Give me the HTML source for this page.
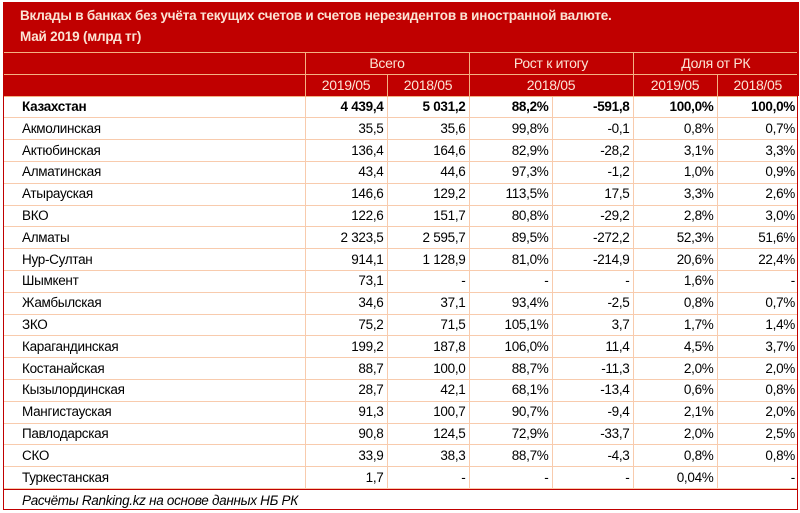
<!DOCTYPE html>
<html><head><meta charset="utf-8"><style>
body{margin:0;width:800px;height:513px;background:#fff;overflow:hidden;font-family:"Liberation Sans","DejaVu Sans",sans-serif;}
#w{position:absolute;left:3px;top:2px;width:795px;height:508px;border-right:1px solid #c00000;border-left:1px solid #c00000;border-bottom:1px solid #c00000;box-sizing:border-box}
.hd{position:absolute;left:3px;top:2px;width:796px;height:94px;background:#c00000}
.t{position:absolute;color:#fbe4d5;font-weight:bold;font-size:13.5px;left:20px;letter-spacing:-0.2px}
table{position:absolute;left:4px;top:52px;border-collapse:collapse;font-size:13.5px;letter-spacing:-0.3px}
td{padding:0 3px;height:20.8px;border:1px solid #f8cbad;white-space:nowrap;text-align:right;line-height:20px}
td.l{text-align:left;padding-left:18px;border-left:none}
tr.h td{color:#fbe4d5;text-align:center;border-color:#f4b183;background:#c00000;font-size:14px}
tr.b td{font-weight:bold}
td:last-child{border-right:none}
.f{position:absolute;left:4px;top:489px;width:794px;height:21px;border-top:1px solid #c00000;font-style:italic;font-size:13.5px;padding-left:18px;line-height:21px;letter-spacing:-0.3px;box-sizing:border-box}
</style></head><body>
<div class="hd"></div>
<div class="t" style="top:8px">Вклады в банках без учёта текущих счетов и счетов нерезидентов в иностранной валюте.</div>
<div class="t" style="top:29px">Май 2019 (млрд тг)</div>
<table>
<colgroup><col style="width:301px"><col style="width:82px"><col style="width:82px"><col style="width:83px"><col style="width:81px"><col style="width:84px"><col style="width:81px"></colgroup>
<tr class="h"><td class="l" style="border-top:1px solid #f4b183"></td><td colspan="2">Всего</td><td colspan="2">Рост к итогу</td><td colspan="2">Доля от РК</td></tr>
<tr class="h"><td class="l" style="border-top:none"></td><td>2019/05</td><td>2018/05</td><td colspan="2">2018/05</td><td>2019/05</td><td>2018/05</td></tr>
<tr class="b"><td class="l">Казахстан</td><td>4 439,4</td><td>5 031,2</td><td>88,2%</td><td>-591,8</td><td>100,0%</td><td>100,0%</td></tr>
<tr><td class="l">Акмолинская</td><td>35,5</td><td>35,6</td><td>99,8%</td><td>-0,1</td><td>0,8%</td><td>0,7%</td></tr>
<tr><td class="l">Актюбинская</td><td>136,4</td><td>164,6</td><td>82,9%</td><td>-28,2</td><td>3,1%</td><td>3,3%</td></tr>
<tr><td class="l">Алматинская</td><td>43,4</td><td>44,6</td><td>97,3%</td><td>-1,2</td><td>1,0%</td><td>0,9%</td></tr>
<tr><td class="l">Атырауская</td><td>146,6</td><td>129,2</td><td>113,5%</td><td>17,5</td><td>3,3%</td><td>2,6%</td></tr>
<tr><td class="l">ВКО</td><td>122,6</td><td>151,7</td><td>80,8%</td><td>-29,2</td><td>2,8%</td><td>3,0%</td></tr>
<tr><td class="l">Алматы</td><td>2 323,5</td><td>2 595,7</td><td>89,5%</td><td>-272,2</td><td>52,3%</td><td>51,6%</td></tr>
<tr><td class="l">Нур-Султан</td><td>914,1</td><td>1 128,9</td><td>81,0%</td><td>-214,9</td><td>20,6%</td><td>22,4%</td></tr>
<tr><td class="l">Шымкент</td><td>73,1</td><td>-</td><td>-</td><td>-</td><td>1,6%</td><td>-</td></tr>
<tr><td class="l">Жамбылская</td><td>34,6</td><td>37,1</td><td>93,4%</td><td>-2,5</td><td>0,8%</td><td>0,7%</td></tr>
<tr><td class="l">ЗКО</td><td>75,2</td><td>71,5</td><td>105,1%</td><td>3,7</td><td>1,7%</td><td>1,4%</td></tr>
<tr><td class="l">Карагандинская</td><td>199,2</td><td>187,8</td><td>106,0%</td><td>11,4</td><td>4,5%</td><td>3,7%</td></tr>
<tr><td class="l">Костанайская</td><td>88,7</td><td>100,0</td><td>88,7%</td><td>-11,3</td><td>2,0%</td><td>2,0%</td></tr>
<tr><td class="l">Кызылординская</td><td>28,7</td><td>42,1</td><td>68,1%</td><td>-13,4</td><td>0,6%</td><td>0,8%</td></tr>
<tr><td class="l">Мангистауская</td><td>91,3</td><td>100,7</td><td>90,7%</td><td>-9,4</td><td>2,1%</td><td>2,0%</td></tr>
<tr><td class="l">Павлодарская</td><td>90,8</td><td>124,5</td><td>72,9%</td><td>-33,7</td><td>2,0%</td><td>2,5%</td></tr>
<tr><td class="l">СКО</td><td>33,9</td><td>38,3</td><td>88,7%</td><td>-4,3</td><td>0,8%</td><td>0,8%</td></tr>
<tr><td class="l">Туркестанская</td><td>1,7</td><td>-</td><td>-</td><td>-</td><td>0,04%</td><td>-</td></tr>
</table>
<div class="f">Расчёты Ranking.kz на основе данных НБ РК</div>
<div id="w"></div>
</body></html>
